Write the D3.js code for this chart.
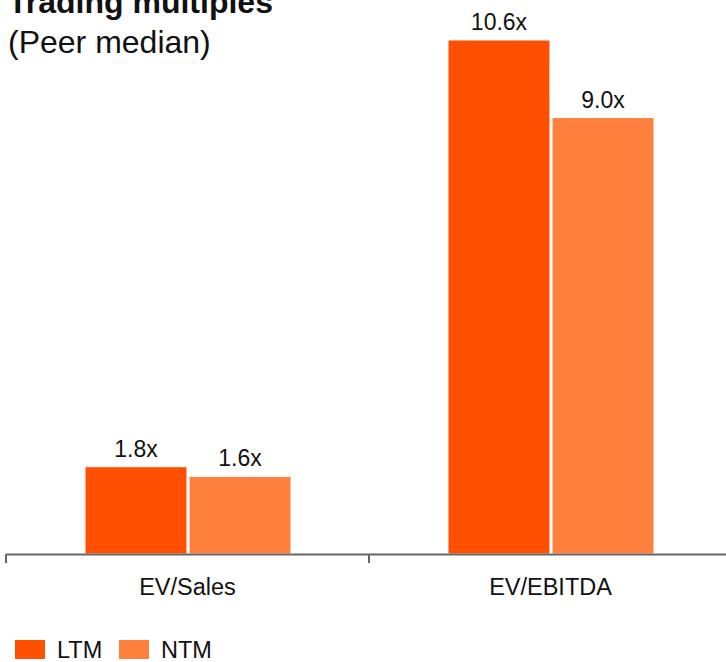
<!DOCTYPE html>
<html><head><meta charset="utf-8">
<script src="https://cdn.jsdelivr.net/npm/d3@7"></script>
<style>body{margin:0;background:#fff}svg{display:block}text{font-family:"Liberation Sans",Arial,sans-serif}</style>
</head><body>
<svg id="c" width="726" height="662"></svg>
<script>
const categories = ["EV/Sales", "EV/EBITDA"];
const seriesNames = ["LTM", "NTM"];
const ltmValues = [1.8, 10.6];
const ntmValues = [1.6, 9.0];
const colors = ["#FE5000", "#FF7F3C"];

const svg = d3.select("#c");
const baseY = 554;
const x = d3.scaleBand().domain(categories).range([6, 732]);
const inner = d3.scaleBand().domain(seriesNames).range([79, 285]).paddingInner(0.02);
const y = d3.scaleLinear().domain([0, 10.6]).range([baseY, 40]);

const data = categories.map((c, i) => ({cat: c, vals: [ltmValues[i], ntmValues[i]]}));

const g = svg.append("g");
data.forEach(d => {
  d.vals.forEach((v, j) => {
    const s = seriesNames[j];
    const bx = x(d.cat) + inner(s);
    g.append("rect").attr("x", bx).attr("y", y(v)).attr("width", inner.bandwidth()).attr("height", baseY - y(v))
      .attr("fill", colors[j]).attr("stroke", "#fff").attr("stroke-width", 1);
    g.append("text").attr("x", bx + inner.bandwidth() / 2).attr("y", y(v) - 10)
      .attr("text-anchor", "middle").attr("font-size", 23).attr("fill", "#111").text(v.toFixed(1) + "x");
  });
});

const axis = d3.axisBottom(x).tickSize(0).tickFormat(d => d);
const ax = svg.append("g").attr("transform", `translate(0,${baseY})`).call(axis);
ax.select(".domain").attr("stroke", "#666").attr("stroke-width", 2);
ax.selectAll(".tick text").attr("font-size", 23.5).attr("fill", "#111").attr("dy", 0).attr("y", 41)
  .style("font-family", '"Liberation Sans",Arial,sans-serif');
const bounds = categories.map(c => x(c)).concat([x.range()[1]]);
svg.append("g").selectAll("line").data(bounds).join("line")
  .attr("x1", d => d).attr("x2", d => d).attr("y1", baseY).attr("y2", baseY + 9)
  .attr("stroke", "#666").attr("stroke-width", 2);

svg.append("text").attr("x", 8).attr("y", 13).attr("font-size", 32).attr("font-weight", "bold").attr("fill", "#111").text("Trading multiples");
svg.append("text").attr("x", 8).attr("y", 53).attr("font-size", 32).attr("fill", "#111").text("(Peer median)");

const lg = svg.append("g");
const lx = [15, 119];
seriesNames.forEach((s, i) => {
  lg.append("rect").attr("x", lx[i]).attr("y", 640).attr("width", 30).attr("height", 19).attr("fill", colors[i]);
  lg.append("text").attr("x", lx[i] + 42).attr("y", 658).attr("font-size", 23.5).attr("fill", "#111").text(s);
});
</script>
</body></html>
